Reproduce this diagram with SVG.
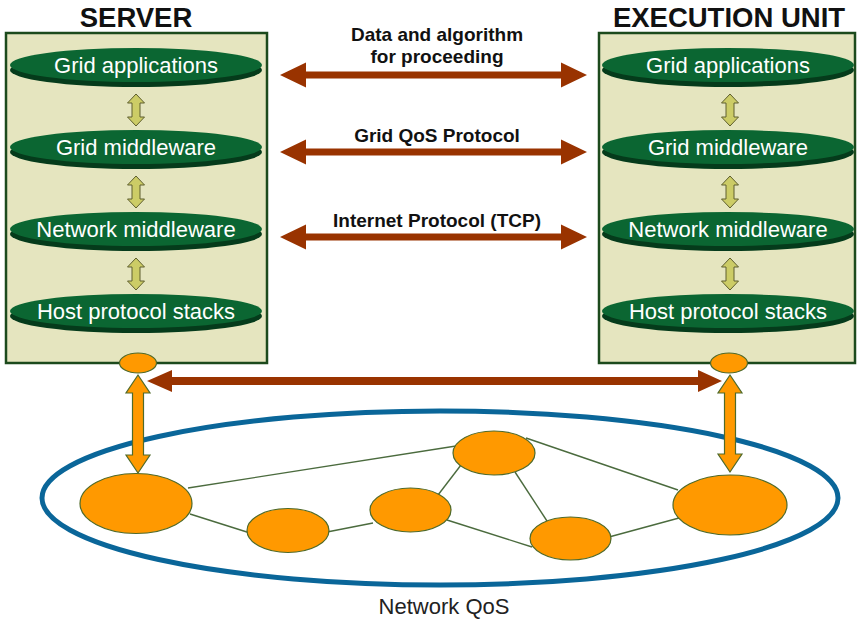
<svg xmlns="http://www.w3.org/2000/svg" width="859" height="620" viewBox="0 0 859 620">
  <style>
    .title { font-family: "Liberation Sans", Arial, sans-serif; font-weight: bold; font-size: 27.5px; fill: #111; text-anchor: middle; }
    .layer-text { font-family: "Liberation Sans", Arial, sans-serif; font-size: 22px; fill: #ffffff; text-anchor: middle; }
    .label { font-family: "Liberation Sans", Arial, sans-serif; font-weight: bold; font-size: 19px; fill: #111; text-anchor: middle; }
    .caption { font-family: "Liberation Sans", Arial, sans-serif; font-size: 22px; fill: #222; text-anchor: middle; }
    .box { fill: #E5E5BF; stroke: #1C4A1C; stroke-width: 2.5; }
    .disc-top { fill: #0B6632; }
    .disc-rim { fill: #053B1B; }
    .updown { fill: #CCCC66; stroke: #5E5E2E; stroke-width: 1; }
    .brown { fill: #993300; }
    .orange { fill: #FF9900; stroke: #4F6A2A; stroke-width: 1.2; }
    .edge { stroke: #4B6B3E; stroke-width: 1.4; fill: none; }
    .cloud { fill: none; stroke: #0A6699; stroke-width: 5; }
  </style>
  <defs>
    <!-- stacked protocol layer: dark rim under a lighter top face -->
    <g id="disc">
      <ellipse class="disc-rim" cx="0" cy="5" rx="126" ry="17"/>
      <ellipse class="disc-top" cx="0" cy="0" rx="126" ry="17"/>
    </g>
    <!-- small two-way arrow between layers, centred on 0, from y=0 to y=32 -->
    <path id="updown" class="updown" d="M0,0 L8.5,9 L4,9 L4,23 L8.5,23 L0,32 L-8.5,23 L-4,23 L-4,9 L-8.5,9 Z"/>
    <!-- wide two-way arrow between the two stacks, length 307 -->
    <path id="peer" class="brown" d="M0,0 L26,-12.5 L26,-3.5 L281,-3.5 L281,-12.5 L307,0 L281,12.5 L281,3.5 L26,3.5 L26,12.5 Z"/>
  </defs>

  <!-- titles -->
  <text class="title" x="136" y="27">SERVER</text>
  <text class="title" x="729" y="27">EXECUTION UNIT</text>

  <!-- server stack -->
  <g id="server">
    <rect class="box" x="6" y="33" width="261" height="330"/>
    <g id="server-grid-applications">
      <use href="#disc" x="136" y="65"/>
      <text class="layer-text" x="136" y="73">Grid applications</text>
    </g>
    <g id="server-grid-middleware">
      <use href="#disc" x="136" y="147"/>
      <text class="layer-text" x="136" y="155">Grid middleware</text>
    </g>
    <g id="server-network-middleware">
      <use href="#disc" x="136" y="229"/>
      <text class="layer-text" x="136" y="237">Network middleware</text>
    </g>
    <g id="server-host-protocol-stacks">
      <use href="#disc" x="136" y="311"/>
      <text class="layer-text" x="136" y="319">Host protocol stacks</text>
    </g>
  </g>

  <!-- execution unit stack -->
  <g id="execution-unit">
    <rect class="box" x="599" y="33" width="256" height="330"/>
    <g id="exec-grid-applications">
      <use href="#disc" x="728" y="65"/>
      <text class="layer-text" x="728" y="73">Grid applications</text>
    </g>
    <g id="exec-grid-middleware">
      <use href="#disc" x="728" y="147"/>
      <text class="layer-text" x="728" y="155">Grid middleware</text>
    </g>
    <g id="exec-network-middleware">
      <use href="#disc" x="728" y="229"/>
      <text class="layer-text" x="728" y="237">Network middleware</text>
    </g>
    <g id="exec-host-protocol-stacks">
      <use href="#disc" x="728" y="311"/>
      <text class="layer-text" x="728" y="319">Host protocol stacks</text>
    </g>
  </g>

  <!-- network attachment points -->
  <g id="server-port"><ellipse class="orange" cx="138" cy="363" rx="18.5" ry="10"/></g>
  <g id="exec-port"><ellipse class="orange" cx="729" cy="363" rx="18.5" ry="10"/></g>

  <!-- network cloud -->
  <g id="network">
    <ellipse class="cloud" cx="440" cy="498" rx="398" ry="87"/>
    <text class="caption" x="444" y="614">Network QoS</text>
  </g>

  <g id="connectors">
    <!-- layer links inside each stack -->
    <use href="#updown" x="136" y="94"/>
    <use href="#updown" x="136" y="176"/>
    <use href="#updown" x="136" y="258"/>
    <use href="#updown" x="730" y="94"/>
    <use href="#updown" x="730" y="176"/>
    <use href="#updown" x="730" y="258"/>

    <!-- peer protocols -->
    <use href="#peer" x="280" y="75"/>
    <use href="#peer" x="280" y="152"/>
    <use href="#peer" x="280" y="237"/>
    <text class="label" x="437" y="41">Data and algorithm</text>
    <text class="label" x="437" y="63">for proceeding</text>
    <text class="label" x="437" y="142">Grid QoS Protocol</text>
    <text class="label" x="437" y="227">Internet Protocol (TCP)</text>

    <!-- end-to-end link between attachment points -->
    <path class="brown" d="M147,381 L172,370 L172,377 L698,377 L698,370 L722,381 L698,392 L698,385 L172,385 L172,392 Z"/>

    <!-- attachment to edge routers -->
    <path class="orange" d="M138,375 L150,393 L143.5,393 L143.5,455 L150,455 L138,473 L126,455 L132.5,455 L132.5,393 L126,393 Z"/>
    <path class="orange" d="M730,375 L742,393 L735.5,393 L735.5,454 L742,454 L730,472 L718,454 L724.5,454 L724.5,393 L718,393 Z"/>

    <!-- links between routers -->
    <line class="edge" x1="188" y1="488" x2="456" y2="446"/>
    <line class="edge" x1="190" y1="514" x2="250" y2="533"/>
    <line class="edge" x1="327" y1="532" x2="373" y2="523"/>
    <line class="edge" x1="438" y1="495" x2="461" y2="465"/>
    <line class="edge" x1="447" y1="520" x2="532" y2="547"/>
    <line class="edge" x1="515" y1="472" x2="547" y2="521"/>
    <line class="edge" x1="526" y1="438" x2="678" y2="490"/>
    <line class="edge" x1="609" y1="537" x2="679" y2="518"/>
  </g>

  <!-- routers -->
  <g id="router-a"><ellipse class="orange" cx="136" cy="503.5" rx="56" ry="30"/></g>
  <g id="router-b"><ellipse class="orange" cx="288" cy="530.5" rx="41" ry="22"/></g>
  <g id="router-c"><ellipse class="orange" cx="410.5" cy="510" rx="40.5" ry="22"/></g>
  <g id="router-d"><ellipse class="orange" cx="494" cy="453" rx="41" ry="22"/></g>
  <g id="router-e"><ellipse class="orange" cx="570.5" cy="538.5" rx="40.5" ry="21.5"/></g>
  <g id="router-f"><ellipse class="orange" cx="730" cy="505" rx="57" ry="30"/></g>
</svg>
